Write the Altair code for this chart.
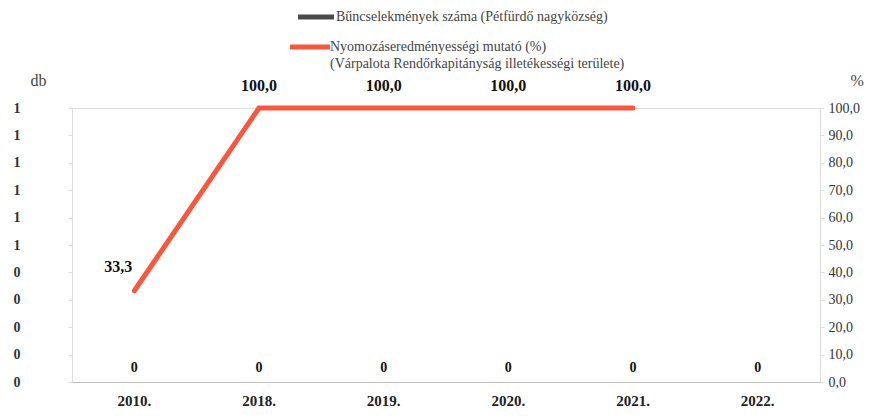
import altair as alt
import pandas as pd

years = ["2010.", "2018.", "2019.", "2020.", "2021.", "2022."]
crimes = [0, 0, 0, 0, 0, 0]
rate = [33.3, 100.0, 100.0, 100.0, 100.0, None]

legend_1 = "Bűncselekmények száma (Pétfürdő nagyközség)"
legend_2a = "Nyomozáseredményességi mutató (%)"
legend_2b = "(Várpalota Rendőrkapitányság illetékességi területe)"

df = pd.DataFrame({"ev": years, "db": crimes, "pct": rate})
df["pct_label"] = df["pct"].map(lambda v: "" if pd.isna(v) else f"{v:.1f}".replace(".", ","))
df["db_label"] = df["db"].map(lambda v: f"{v}")
df["first"] = [i == 0 for i in range(len(df))]

FONT = "Liberation Serif"
RED = "#F9573D"
GRAY = "#444444"

x = alt.X("ev:N", sort=years, title=None,
          scale=alt.Scale(paddingInner=0.35, paddingOuter=0.175),
          axis=alt.Axis(labelAngle=0, labelFont=FONT, labelFontWeight="bold",
                        labelFontSize=15, labelColor="#222222", ticks=False,
                        domainColor="#bdbdbd", labelPadding=11, grid=False))

y_left = alt.Y("db:Q", scale=alt.Scale(domain=[0, 1]),
               axis=alt.Axis(title="db", titleAngle=0, titleFont=FONT, titleFontWeight="normal",
                             titleFontSize=16, titleColor="#444444", titleX=-42, titleY=-20,
                             titleAlign="left", values=[i / 10 for i in range(11)],
                             labelExpr="datum.value >= 0.5 ? '1' : '0'",
                             labelFont=FONT, labelFontSize=14, labelFontWeight="bold",
                             labelColor="#333333", domainColor="#dcdcdc", tickColor="#dcdcdc",
                             tickSize=4, labelPadding=48, grid=False))

bars = alt.Chart(df).mark_bar(color="#595959").encode(x=x, y=y_left)
bar_labels = alt.Chart(df).mark_text(font=FONT, fontSize=14, fontWeight="bold", dy=-14,
                                     color="#111111").encode(x=x, y=y_left, text="db_label:N")

y_right = alt.Y("pct:Q", scale=alt.Scale(domain=[0, 100]),
                axis=alt.Axis(orient="right", title="%", titleAngle=0, titleFont=FONT,
                              titleFontWeight="normal", titleFontSize=16, titleColor="#444444",
                              titleX=30, titleY=-20, titleAlign="left",
                              values=list(range(0, 101, 10)),
                              labelExpr="replace(format(datum.value, '.1f'), '.', ',')",
                              labelFont=FONT, labelFontSize=14, labelColor="#333333",
                              domainColor="#dcdcdc", tickColor="#dcdcdc", tickSize=4,
                              labelPadding=4, grid=False))

line = alt.Chart(df).mark_line(color=RED, strokeWidth=5, strokeCap="round").encode(x=x, y=y_right)
lab_first = alt.Chart(df).transform_filter("datum.first").mark_text(
    font=FONT, fontSize=16, fontWeight="bold", align="right", dx=-2, dy=-24, color="#111111"
).encode(x=x, y=y_right, text="pct_label:N")
lab_rest = alt.Chart(df).transform_filter("!datum.first && isValid(datum.pct)").mark_text(
    font=FONT, fontSize=16, fontWeight="bold", dy=-22, color="#111111"
).encode(x=x, y=y_right, text="pct_label:N")

leg_df = pd.DataFrame({"a": [0]})
leg_sym1 = alt.Chart(leg_df).mark_rule(color="#4a4a4a", strokeWidth=5).encode(
    x=alt.value(226), x2=alt.value(262), y=alt.value(-91))
leg_txt1 = alt.Chart(leg_df).mark_text(font=FONT, fontSize=14, align="left", baseline="middle",
                                       color=GRAY).encode(x=alt.value(264), y=alt.value(-91),
                                                          text=alt.value(legend_1))
leg_sym2 = alt.Chart(leg_df).mark_rule(color=RED, strokeWidth=5).encode(
    x=alt.value(218), x2=alt.value(258), y=alt.value(-61))
leg_txt2 = alt.Chart(leg_df).mark_text(font=FONT, fontSize=14, align="left", baseline="middle",
                                       color=GRAY).encode(x=alt.value(258), y=alt.value(-61),
                                                          text=alt.value(legend_2a))
leg_txt3 = alt.Chart(leg_df).mark_text(font=FONT, fontSize=14, align="left", baseline="middle",
                                       color=GRAY).encode(x=alt.value(258), y=alt.value(-44),
                                                          text=alt.value(legend_2b))

left = alt.layer(bars, bar_labels)
right = alt.layer(line, lab_first, lab_rest)

chart = alt.layer(left, right, leg_sym1, leg_txt1, leg_sym2, leg_txt2, leg_txt3).resolve_scale(
    y="independent"
).properties(
    width=748, height=274,
    autosize=alt.AutoSizeParams(type="none"),
    padding={"left": 64, "top": 100, "right": 62, "bottom": 28},
).configure_view(stroke=None).configure(background="white")

chart.save("out.html", embed_options={"renderer": "svg", "actions": False})
